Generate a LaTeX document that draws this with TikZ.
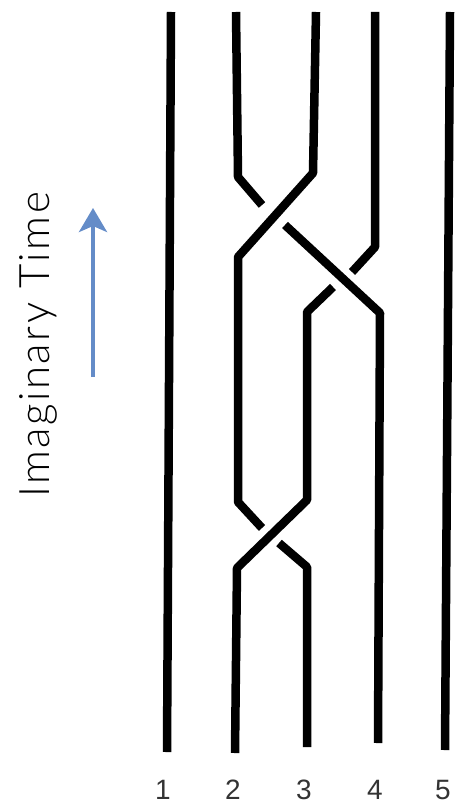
\documentclass[tikz,border=0pt]{standalone}
\usepackage{fontspec}
\usetikzlibrary{arrows.meta}
\newfontfamily\timefont{Lato Light}[LetterSpace=6]
\newfontfamily\numfont{Liberation Sans}
\definecolor{timeblue}{RGB}{100,140,200}

\begin{document}
\begin{tikzpicture}[x=1pt, y=-1pt,
  strand/.style={line width=8.5pt, line join=bevel},
  strandnum/.style={font=\numfont\fontsize{28}{30}\selectfont, text=black!80},
  timearrow/.style={line width=4pt, color=timeblue, -{Stealth[length=24pt, width=28pt, inset=6pt]}}]
\useasboundingbox (0,0) rectangle (460,810);
% outer strands
\draw [strand] (171,12) -- (167,752);
\draw [strand] (450,12) -- (445,750);
% strand from top 2
\draw [strand] (236,12) -- (238,177) -- (262,205);
\draw [strand] (285,225) -- (380,313) -- (378,743);
% strand from top 3
\draw [strand] (316,12) -- (313,173) -- (238,257) -- (238,502) -- (262,528);
\draw [strand] (279,543) -- (307,567) -- (307,747);
% strand from top 4
\draw [strand] (375,12) -- (375,247) -- (352,272);
\draw [strand] (333,287) -- (307,312) -- (307,500) -- (237,568) -- (235,753);
% labels
\node [strandnum] (n1) at (163,790) {1};
\node [strandnum] (n2) at (233,790) {2};
\node [strandnum] (n3) at (304,790) {3};
\node [strandnum] (n4) at (375,790) {4};
\node [strandnum] (n5) at (443,790) {5};
% time axis
\coordinate (tstart) at (93,377);
\coordinate (tend) at (93,208);
\draw [timearrow] (tstart) -- (tend);
\node [rotate=90, anchor=base, font=\timefont\fontsize{42}{46}\selectfont] (tlabel) at (49,345) {Imaginary Time};
\end{tikzpicture}
\end{document}
